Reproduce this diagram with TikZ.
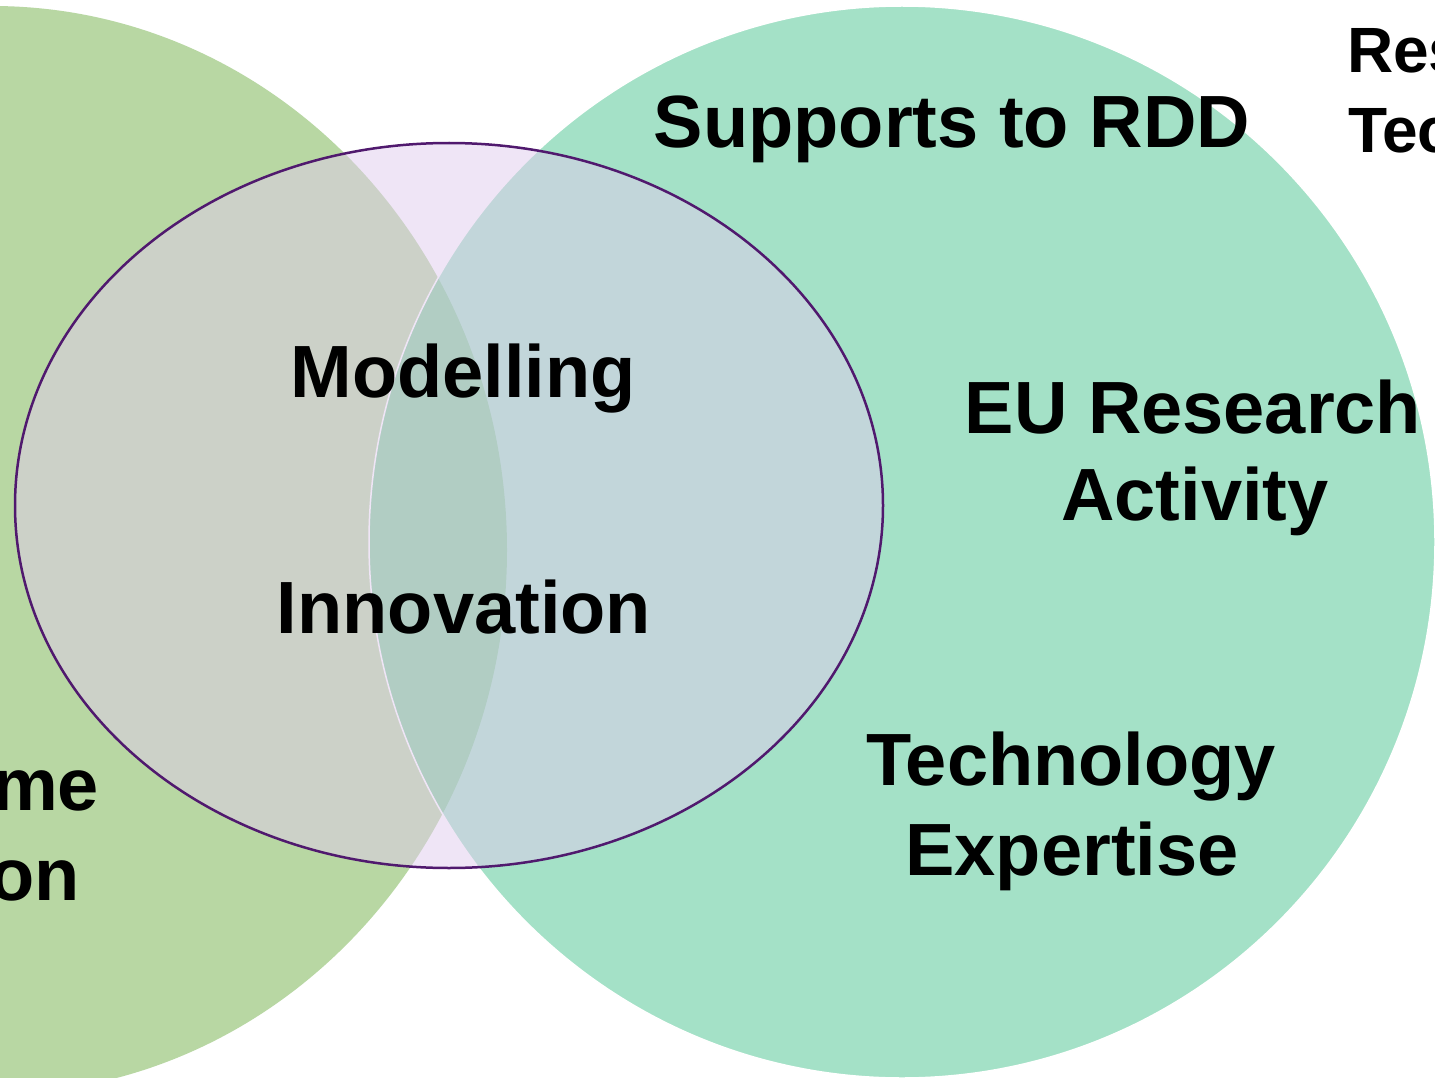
\documentclass[tikz,border=0pt]{standalone}
\usepackage{fontspec}
\setmainfont{Liberation Sans}
\definecolor{leftgreen}{RGB}{184,215,163}
\definecolor{rightteal}{RGB}{75,197,145}
\definecolor{midpink}{RGB}{225,205,238}
\definecolor{midline}{RGB}{80,25,110}
\tikzset{
  lbl/.style={inner sep=0pt, outer sep=0pt, font=\fontsize{74}{88}\selectfont\bfseries, text=black},
  lblsmall/.style={inner sep=0pt, outer sep=0pt, font=\fontsize{64}{80}\selectfont\bfseries, text=black}
}
\begin{document}
\begin{tikzpicture}[x=1pt,y=-1pt]
\useasboundingbox (0,0) rectangle (1435,1078);
\clip (0,0) rectangle (1435,1078);
\fill[white] (0,0) rectangle (1435,1078);
% left set
\fill[leftgreen] (-8,550) ellipse [x radius=515, y radius=544];
% right set
\draw[white, line width=1.5pt, fill=rightteal, fill opacity=0.5] (902,542) ellipse [x radius=533, y radius=536];
% middle set
\draw[midline, line width=2.5pt, fill=midpink, fill opacity=0.5] (449,505.5) ellipse [x radius=434, y radius=362.5];
% labels
\node[lbl, anchor=base] (sup) at (952,148) {Supports to RDD};
\node[lbl, anchor=base] (mod) at (463,397) {Modelling};
\node[lbl, anchor=base] (inn) at (464,633) {Innovation};
\node[lbl, anchor=base] (eua) at (1193,433) {EU Research};
\node[lbl, anchor=base] (eub) at (1195,520) {Activity};
\node[lbl, anchor=base] (tea) at (1071,785) {Technology};
\node[lbl, anchor=base] (teb) at (1072,875) {Expertise};
\node[lblsmall, anchor=base west] (resa) at (1347,73) {Res};
\node[lblsmall, anchor=base west] (resb) at (1348,153) {Tec};
\node[lbl, anchor=base east] (lfa) at (99,810) {me};
\node[lbl, anchor=base east] (lfb) at (80,900) {on};
\end{tikzpicture}
\end{document}
